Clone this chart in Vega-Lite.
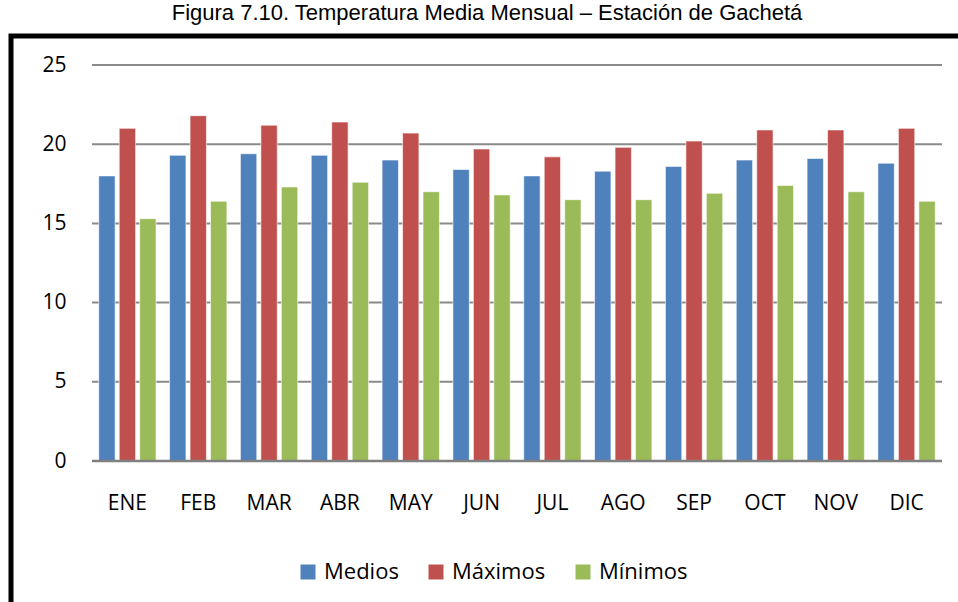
{
  "$schema": "https://vega.github.io/schema/vega-lite/v6.json",
  "autosize": {"type": "none"},
  "width": 952,
  "height": 571,
  "padding": {"left": 11, "top": 36, "right": -5, "bottom": -5},
  "background": "white",
  "title": {
    "text": "Figura 7.10. Temperatura Media Mensual – Estación de Gachetá",
    "font": "Liberation Sans",
    "fontSize": 22,
    "fontWeight": "normal",
    "color": "#000000",
    "anchor": "middle",
    "baseline": "alphabetic",
    "offset": 7,
    "dy": 13
  },
  "datasets": {
    "temps": [
      {"mes": "ENE", "serie": "Medios", "valor": 18.0},
      {"mes": "ENE", "serie": "Máximos", "valor": 21.0},
      {"mes": "ENE", "serie": "Mínimos", "valor": 15.3},
      {"mes": "FEB", "serie": "Medios", "valor": 19.3},
      {"mes": "FEB", "serie": "Máximos", "valor": 21.8},
      {"mes": "FEB", "serie": "Mínimos", "valor": 16.4},
      {"mes": "MAR", "serie": "Medios", "valor": 19.4},
      {"mes": "MAR", "serie": "Máximos", "valor": 21.2},
      {"mes": "MAR", "serie": "Mínimos", "valor": 17.3},
      {"mes": "ABR", "serie": "Medios", "valor": 19.3},
      {"mes": "ABR", "serie": "Máximos", "valor": 21.4},
      {"mes": "ABR", "serie": "Mínimos", "valor": 17.6},
      {"mes": "MAY", "serie": "Medios", "valor": 19.0},
      {"mes": "MAY", "serie": "Máximos", "valor": 20.7},
      {"mes": "MAY", "serie": "Mínimos", "valor": 17.0},
      {"mes": "JUN", "serie": "Medios", "valor": 18.4},
      {"mes": "JUN", "serie": "Máximos", "valor": 19.7},
      {"mes": "JUN", "serie": "Mínimos", "valor": 16.8},
      {"mes": "JUL", "serie": "Medios", "valor": 18.0},
      {"mes": "JUL", "serie": "Máximos", "valor": 19.2},
      {"mes": "JUL", "serie": "Mínimos", "valor": 16.5},
      {"mes": "AGO", "serie": "Medios", "valor": 18.3},
      {"mes": "AGO", "serie": "Máximos", "valor": 19.8},
      {"mes": "AGO", "serie": "Mínimos", "valor": 16.5},
      {"mes": "SEP", "serie": "Medios", "valor": 18.6},
      {"mes": "SEP", "serie": "Máximos", "valor": 20.2},
      {"mes": "SEP", "serie": "Mínimos", "valor": 16.9},
      {"mes": "OCT", "serie": "Medios", "valor": 19.0},
      {"mes": "OCT", "serie": "Máximos", "valor": 20.9},
      {"mes": "OCT", "serie": "Mínimos", "valor": 17.4},
      {"mes": "NOV", "serie": "Medios", "valor": 19.1},
      {"mes": "NOV", "serie": "Máximos", "valor": 20.9},
      {"mes": "NOV", "serie": "Mínimos", "valor": 17.0},
      {"mes": "DIC", "serie": "Medios", "valor": 18.8},
      {"mes": "DIC", "serie": "Máximos", "valor": 21.0},
      {"mes": "DIC", "serie": "Mínimos", "valor": 16.4}
    ],
    "grid": [
      {"v": 5}, {"v": 10}, {"v": 15}, {"v": 20}, {"v": 25}
    ],
    "base": [
      {"v": 0}
    ]
  },
  "layer": [
    {
      "data": {"name": "grid"},
      "mark": {"type": "rule", "color": "#8a8a8a", "strokeWidth": 2},
      "encoding": {
        "y": {"field": "v", "type": "quantitative"},
        "x": {"datum": "ENE", "type": "nominal", "bandPosition": 0},
        "x2": {"datum": "DIC", "bandPosition": 1}
      }
    },
    {
      "data": {"name": "temps"},
      "mark": {"type": "bar", "stroke": "#ffffff", "strokeWidth": 1, "strokeOpacity": 0.6},
      "encoding": {
        "x": {
          "field": "mes",
          "type": "nominal",
          "sort": ["ENE", "FEB", "MAR", "ABR", "MAY", "JUN", "JUL", "AGO", "SEP", "OCT", "NOV", "DIC"],
          "scale": {"paddingInner": 0, "paddingOuter": 0.72, "align": 0.794},
          "axis": {
            "title": null,
            "orient": "bottom",
            "offset": -104,
            "bandPosition": 0.5,
            "domain": false,
            "ticks": false,
            "tickSize": 0,
            "labelPadding": 0,
            "labelBaseline": "middle",
            "labelAlign": "center",
            "labelAngle": 0,
            "labelFont": "Open Sans",
            "labelFontSize": 21,
            "labelColor": "#000000",
            "grid": false
          }
        },
        "xOffset": {
          "field": "serie",
          "type": "nominal",
          "sort": ["Medios", "Máximos", "Mínimos"],
          "scale": {"paddingInner": 0.2, "paddingOuter": 0.33}
        },
        "y": {
          "field": "valor",
          "type": "quantitative",
          "scale": {"domain": [-9.217, 26.831], "nice": false, "zero": false},
          "axis": {
            "title": null,
            "orient": "left",
            "offset": -81,
            "values": [0, 5, 10, 15, 20, 25],
            "domain": false,
            "ticks": false,
            "tickSize": 0,
            "labelPadding": 26,
            "labelFont": "Open Sans",
            "labelFontSize": 21,
            "labelColor": "#000000",
            "grid": false
          }
        },
        "color": {
          "field": "serie",
          "type": "nominal",
          "sort": ["Medios", "Máximos", "Mínimos"],
          "scale": {"domain": ["Medios", "Máximos", "Mínimos"], "range": ["#4F81BD", "#C0504D", "#9BBB59"]},
          "legend": {
            "title": null,
            "orient": "none",
            "legendX": 286,
            "legendY": 525,
            "direction": "horizontal",
            "symbolType": "square",
            "symbolSize": 225,
            "symbolStrokeWidth": 0,
            "symbolOpacity": 1,
            "labelFont": "Open Sans",
            "labelFontSize": 22,
            "labelColor": "#000000",
            "labelOffset": 5,
            "columnPadding": 26
          }
        }
      }
    },
    {
      "data": {"name": "base"},
      "mark": {"type": "rule", "color": "#808080", "strokeWidth": 2.5},
      "encoding": {
        "y": {"field": "v", "type": "quantitative"},
        "x": {"datum": "ENE", "type": "nominal", "bandPosition": 0},
        "x2": {"datum": "DIC", "bandPosition": 1}
      }
    }
  ],
  "config": {
    "view": {"stroke": "#000000", "strokeWidth": 5},
    "axis": {"labelFont": "Open Sans"}
  }
}
